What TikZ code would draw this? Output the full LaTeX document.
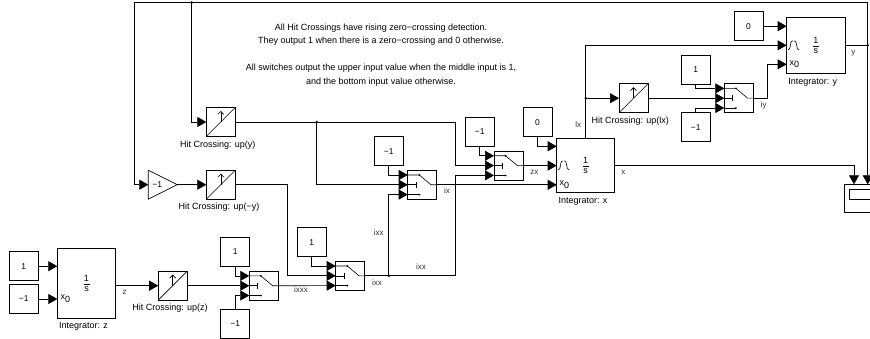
\documentclass[tikz,border=0pt]{standalone}
\usepackage{fontspec}
\setmainfont{Liberation Sans}
\usetikzlibrary{arrows.meta,calc,positioning,shapes.geometric}

\tikzset{
  blockbox/.style={draw,line width=.7pt,inner sep=0pt,outer sep=0pt,font=\fontsize{8.5}{10}\selectfont},
  constbox/.style={blockbox,minimum size=29pt},
  intbox/.style={blockbox,font=\fontsize{9}{10}\selectfont},
  wire/.style={line width=.7pt,-{Triangle[length=9pt,width=10pt]}},
  thinline/.style={line width=.6pt},
  lab/.style={font=\fontsize{9}{11}\selectfont,inner sep=0pt},
  siglab/.style={font=\fontsize{8}{9}\selectfont,inner sep=0pt,text=black!80}
}
\newcommand{\oneovers}{\shortstack[c]{1\\[-.5pt]\rule{6pt}{.6pt}\\[-.5pt]s}}

\begin{document}
\begin{tikzpicture}[x=1pt,y=-1pt]
\useasboundingbox (0,0) rectangle (870,339);
\clip (0,0) rectangle (870,339);

\foreach \n/\x/\y/\t in {c0/23.8/266.2/1,c1/23.8/299/−1,c2/235.2/251.8/1,c3/235.2/323.8/−1,
  c4/311.8/242.2/1,c5/388.8/151.2/−1,c6/479.8/131.8/−1,c7/537.5/122.2/0,
  c8/695.8/69.5/1,c9/695.8/127.2/−1,c10/748.5/26.2/0} {
\node[constbox] (\n) at (\x,\y) {\t};
}

% hit crossings
\foreach \n/\x/\y in {hz/172.7/285.7,hny/220.8/184.7,hy/220.8/122,hlx/633.5/98.2} {
\node[constbox] (\n) at (\x,\y) {};
\draw[thinline] (\n.south west) -- (\n.north east);
\draw[thinline,-{Straight Barb[length=3pt,width=6pt]}] (\n.center) -- ++(0,-11);
}

% switches
\foreach \n/\x/\y in {s0/263.8/285.7,s1/350.2/275.8,s2/422.2/184.8,s3/508.5/165.6,s4/738.8/98.2} {
\node[constbox] (\n) at (\x,\y) {};
\path (\n.west) ++(0,-9.8) coordinate (t\n);
\path (\n.west) ++(0,9.8) coordinate (b\n);
\draw[thinline] (t\n) -- ++(11.6,0) -- ($(\n.west)+(23.3,0)$) -- (\n.east);
\draw[thinline] (b\n) -- ++(11.6,0);
\fill ($(t\n)+(11.6,0)$) circle (1);
\fill ($(b\n)+(11.6,0)$) circle (1);
\draw[thinline] (\n.west) -- ++(8.3,0) ++(0,-3) -- ++(0,6);
}

\node[intbox,minimum width=58.4pt,minimum height=70pt] (iz) at (86.5,283.2) {\oneovers};
\node[intbox,minimum width=58pt,minimum height=54pt] (ix) at (585.7,165.3) {\oneovers};
\node[intbox,minimum width=58.3pt,minimum height=56pt] (iy) at (815.8,45.3) {\oneovers};

\node[blockbox,isosceles triangle,isosceles triangle stretches,minimum width=29pt,minimum height=29pt,anchor=lower side] (g0) at (148.3,184.7) {−1};

\node[blockbox,anchor=north west,minimum width=40pt,minimum height=28.5pt] (sc) at (844.3,184.3) {};
\node[blockbox,anchor=north west,minimum width=30pt,minimum height=10.3pt] (sc0) at (849.3,189) {};

% labels under the blocks
\node[lab,below=4pt of iz,xshift=-3pt] (liz) {Integrator: z};
\node[lab,below=4.5pt of ix,xshift=-2.7pt] (lix) {Integrator: x};
\node[lab,below=4.5pt of iy,xshift=-3pt] (liy) {Integrator: y};
\node[lab,below=4pt of hz,xshift=-2.7pt] (lhz) {Hit Crossing: up(z)};
\node[lab,below=4pt of hny,xshift=-1.8pt] (lhny) {Hit Crossing: up(−y)};
\node[lab,below=4.5pt of hy,xshift=-3pt] (lhy) {Hit Crossing: up(y)};
\node[lab,below=4pt of hlx,xshift=-3.2pt] (lhlx) {Hit Crossing: up(lx)};

\node[lab,font=\fontsize{9}{13.5}\selectfont,align=center] (note) at (381,55) {All Hit Crossings have rising zero−crossing detection.\\
They output 1 when there is a zero−crossing and 0 otherwise.\\
\\
All switches output the upper input value when the middle input is 1,\\
and the bottom input value otherwise.};

% port labels
\node[lab,anchor=west] (xz) at (60.5,298.7) {x\raisebox{-2.5pt}{0}};
\node[lab,anchor=west] (xx) at (559.5,184.7) {x\raisebox{-2.5pt}{0}};
\node[lab,anchor=west] (xy) at (789.5,64.3) {x\raisebox{-2.5pt}{0}};

% signal labels
\foreach \n/\x/\y/\t in {n0/124.5/292.7/z,n1/301/290/ixxx,n2/377/283/ixx,n3/378.7/233/ixx,
  n4/421/267/ixx,n5/447/191/ix,n6/534.3/172.7/zx,n7/578.3/125/lx,n8/623.3/172.3/x,
  n9/763.7/105/iy,n10/853.3/53/y} {
\node[siglab] (\n) at (\x,\y) {\t};
}

% bends and junctions
\coordinate (w0) at (287.7,230);
\coordinate (w1) at (455.7,220);
\coordinate (w2) at (455.7,140);
\coordinate (w3) at (767.7,80);
\coordinate (tl) at (134.3,2.5);
\coordinate (sa) at (854,184.3);
\coordinate (sb) at (867.7,184.3);
\coordinate (p0) at (ix.west |- 0,146.3);
\coordinate (p1) at (iy.west |- 0,64.3);
\coordinate (j0) at (191.7,2.5);
\coordinate (j1) at (c5.south |- s1.east);
\coordinate (j2) at (316.7,122);
\coordinate (j3) at (ix.north |- hlx.west);
\coordinate (j4) at (sb |- iy.east);

\draw[wire] (c0.east) -- (c0.east -| iz.west);
\draw[wire] (c1.east) -- (c1.east -| iz.west);
\draw[wire] (iz.east |- hz.west) -- (hz.west);
\draw[wire] (hz.east) -- (s0.west);
\draw[wire] (c2.south) |- (ts0);
\draw[wire] (c3.north) |- (bs0);
\draw[wire] (s0.east) -- (bs1);
\draw[wire] (c4.south) |- (ts1);
\draw[wire] (hny.east) -| (w0) |- (s1.west);
\draw[wire] (g0.apex) -- (hny.west);
\draw[wire] (hy.east) -| (w2) |- (s3.west);
\draw[wire] (j2) |- (s2.west);
\draw[wire] (c5.south) |- (ts2);
\draw[wire] (j1) |- (bs2);
\draw[wire] (s1.east) -| (w1) |- (bs3);
\draw[wire] (c6.south) |- (ts3);
\draw[wire] (s2.east) -- (s2.east -| ix.west);
\draw[wire] (s3.east) -- (s3.east -| ix.west);
\draw[wire] (c7.south) |- (p0);
\draw[wire] (ix.north) |- (iy.west);
\draw[wire] (j3) -- (hlx.west);
\draw[wire] (hlx.east) -- (s4.west);
\draw[wire] (c8.south) |- (ts4);
\draw[wire] (c9.north) |- (bs4);
\draw[wire] (s4.east) -| (w3) |- (p1);
\draw[wire] (c10.east) -- (c10.east -| iy.west);
\draw[wire] (ix.east) -| (sa);
\draw[wire] (iy.east) -| (sb);
\draw[wire] (j4) |- (tl) |- (g0.lower side);
\draw[wire] (j0) |- (hy.west);

% reset marks on the integrators
\foreach \p in {ix.west,iy.west} {
\draw[thinline] ($(\p)+(1.5,4.5)$) .. controls ($(\p)+(4.5,5.5)$) and ($(\p)+(3,-5.5)$) .. ($(\p)+(6,-4.5)$);
\draw[thinline] ($(\p)+(7.5,-4.5)$) .. controls ($(\p)+(11,-5.5)$) and ($(\p)+(9,5.5)$) .. ($(\p)+(12.5,4.5)$);
}

\foreach \j in {j0,j1,j2,j3,j4} {
\fill (\j) circle (1.4);
}
\end{tikzpicture}
\end{document}
